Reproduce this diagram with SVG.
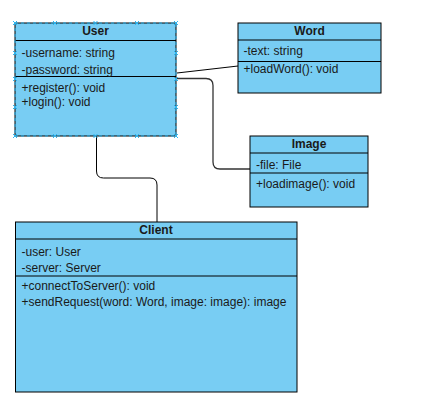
<svg xmlns="http://www.w3.org/2000/svg" width="435" height="415" viewBox="0 0 435 415">
<style>
.box{fill:#78CDF3;stroke:#000;stroke-width:1}
.sep{stroke:#000;stroke-width:1}
.t{font-family:"Liberation Sans",Arial,sans-serif;font-size:12px;fill:#1a1a1a}
.h{font-family:"Liberation Sans",Arial,sans-serif;font-size:12px;font-weight:bold;fill:#1a1a1a;text-anchor:middle}
.c{fill:none;stroke:#000;stroke-width:1}
.sel{fill:none;stroke:#29B6F2;stroke-width:1;stroke-dasharray:3 3}
.hd{stroke:#29B6F2;stroke-width:1}
</style>
<rect width="435" height="415" fill="#fff"/>
<g id="connectors">
<path class="c" d="M177,73 L238,66"/>
<path class="c" d="M177,78.5 L206,78.5 Q213,78.5 213,85.5 L213,162 Q213,169 220,169 L250,169" style="stroke:#333;stroke-width:1.3"/>
<path class="c" d="M96.5,136 L96.5,171 Q96.5,178 103.5,178 L150,178 Q157,178 157,185 L157,222"/>
</g>
<g id="User">
<rect class="box" x="15" y="23" width="161" height="113"/>
<line class="sep" x1="15" y1="40.5" x2="176" y2="40.5"/>
<line class="sep" x1="15" y1="76.5" x2="176" y2="76.5"/>
<text class="h" x="95.5" y="35">User</text>
<text class="t" x="21.5" y="57">-username: string</text>
<text class="t" x="21.5" y="73.5">-password: string</text>
<text class="t" x="21.5" y="92">+register(): void</text>
<text class="t" x="21.5" y="106">+login(): void</text>
</g>
<g id="User-selection">
<rect class="sel" x="15" y="23" width="161" height="113"/>
<g class="hd">
<path d="M13,21l4,4M17,21l-4,4M53,21l4,4M57,21l-4,4M93.5,21l4,4M97.5,21l-4,4M135,21l4,4M139,21l-4,4M174,21l4,4M178,21l-4,4"/>
<path d="M13,134l4,4M17,134l-4,4M53,134l4,4M57,134l-4,4M93.5,134l4,4M97.5,134l-4,4M135,134l4,4M139,134l-4,4M174,134l4,4M178,134l-4,4"/>
<path d="M13,51l4,4M17,51l-4,4M13,77l4,4M17,77l-4,4M13,105l4,4M17,105l-4,4"/>
<path d="M174,51l4,4M178,51l-4,4M174,77l4,4M178,77l-4,4M174,105l4,4M178,105l-4,4"/>
</g>
</g>
<g id="Word">
<rect class="box" x="238" y="23" width="143" height="70"/>
<line class="sep" x1="238" y1="40" x2="381" y2="40"/>
<line class="sep" x1="238" y1="61.5" x2="381" y2="61.5"/>
<text class="h" x="309.5" y="34.5">Word</text>
<text class="t" x="243.5" y="55">-text: string</text>
<text class="t" x="243.5" y="72.5">+loadWord(): void</text>
</g>
<g id="Image">
<rect class="box" x="250" y="136" width="118" height="71"/>
<line class="sep" x1="250" y1="153" x2="368" y2="153"/>
<line class="sep" x1="250" y1="173" x2="368" y2="173"/>
<text class="h" x="309" y="147.5">Image</text>
<text class="t" x="256" y="168.5">-file: File</text>
<text class="t" x="256" y="188">+loadimage(): void</text>
</g>
<g id="Client">
<rect class="box" x="15.5" y="222" width="281.5" height="170"/>
<line class="sep" x1="15.5" y1="239" x2="297" y2="239"/>
<line class="sep" x1="15.5" y1="276" x2="297" y2="276"/>
<text class="h" x="156" y="234">Client</text>
<text class="t" x="21.5" y="256">-user: User</text>
<text class="t" x="21.5" y="272">-server: Server</text>
<text class="t" x="21.5" y="290">+connectToServer(): void</text>
<text class="t" x="21.5" y="306">+sendRequest(word: Word, image: image): image</text>
</g>
</svg>
